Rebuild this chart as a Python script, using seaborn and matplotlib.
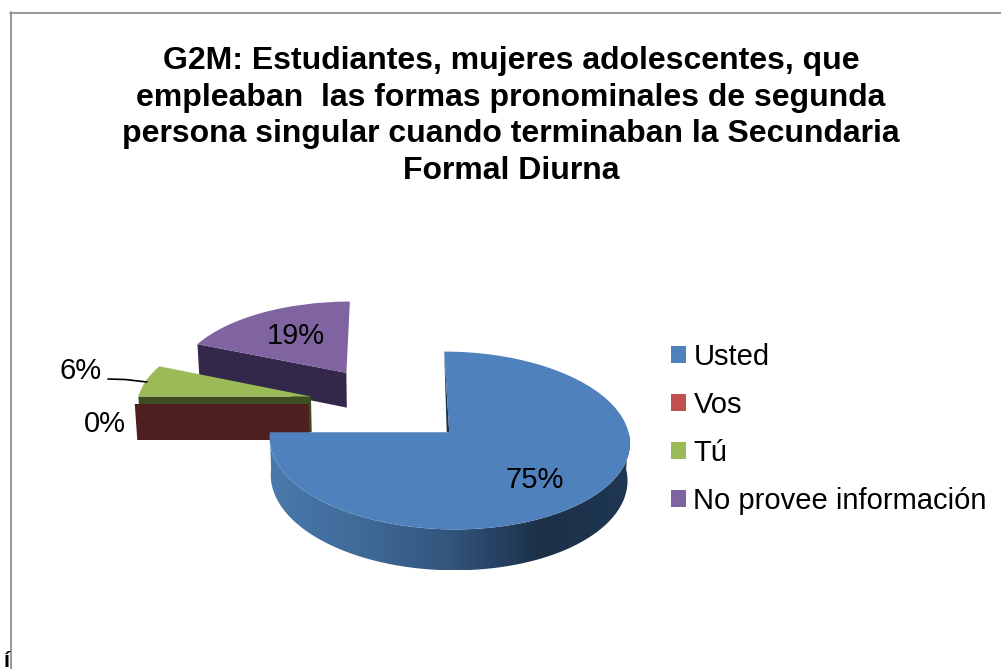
import numpy as np
import matplotlib
matplotlib.use('Agg')
import matplotlib.pyplot as plt
import seaborn as sns
from matplotlib.colors import LinearSegmentedColormap
from matplotlib.patches import Polygon
from matplotlib.transforms import Transform

categories = ['Usted', 'Vos', 'Tú', 'No provee información']
percentages = [75, 0, 6.25, 18.75]

title = ('G2M: Estudiantes, mujeres adolescentes, que\n'
         'empleaban  las formas pronominales de segunda\n'
         'persona singular cuando terminaban la Secundaria\n'
         'Formal Diurna')

top_colors = sns.color_palette(['#4f81bd', '#c0504d', '#9bbb59', '#8064a2'])
wall_colors = ['#1c3149', '#4d1f1e', '#3f4d23', '#33284a']
blue_wall = ['#4a79ad', '#3f6a98', '#32557c', '#1c3048', '#1f3751']

# where the pie sits on the page, in pixels
CX, CY, RX, RY = 390, 404, 174, 83
TILT = 0.09
DEPTH = 36
SHRINK = 0.01


def project(xy, z=0.0):
    # unit pie coords -> page pixels, with a bit of perspective
    xy = np.atleast_2d(xy)
    w = 1 + TILT * xy[:, 1]
    px = CX + RX * xy[:, 0] / w * (1 - SHRINK * z)
    py = CY - RY * xy[:, 1] / w + DEPTH * z / w
    return np.column_stack([px, py])


class Tilted(Transform):
    input_dims = 2
    output_dims = 2
    is_affine = False

    def transform_non_affine(self, values):
        return project(values)


def rim(wedge, angles):
    a = np.radians(angles)
    cx, cy = wedge.center
    return np.column_stack([cx + wedge.r * np.cos(a), cy + wedge.r * np.sin(a)])


def cut_face(wedge, angle):
    ends = np.vstack([wedge.center, rim(wedge, [angle])])
    return np.vstack([project(ends), project(ends[::-1], 1)])


sns.set_theme(style='white')
plt.rcParams['font.family'] = ['Liberation Sans', 'DejaVu Sans']

fig = plt.figure(figsize=(10.01, 6.69), dpi=100)
ax = fig.add_axes([0, 0, 1, 1])

wedges, _ = ax.pie(percentages, colors=top_colors, startangle=90, counterclock=False,
                   explode=[0.467] * 4, radius=1)
usted, vos, tu, no_info = wedges

ax.set_aspect('auto')
tilted = Tilted() + ax.transData
for w in wedges:
    w.set_transform(tilted)
    w.set_linewidth(0)

# back to front
no_info.set_zorder(3)
tu.set_zorder(5)
vos.set_zorder(7)
usted.set_zorder(10)
ax.add_patch(Polygon(cut_face(no_info, no_info.theta2), fc=wall_colors[3], ec='none', zorder=2))
ax.add_patch(Polygon(cut_face(tu, tu.theta2), fc=wall_colors[2], ec='none', zorder=4))
ax.add_patch(Polygon(cut_face(vos, vos.theta2), fc=wall_colors[1], ec='none', zorder=6))

# blue outer wall with the left-right shading
arc = rim(usted, np.linspace(usted.theta1, 0, 120))
wall_xy = np.vstack([project(arc), project(arc[::-1], 1)])
gradient = LinearSegmentedColormap.from_list('blue_wall', blue_wall)
im = ax.imshow(np.linspace(0, 1, 256)[None, :], cmap=gradient, aspect='auto', zorder=8,
               extent=[wall_xy[:, 0].min(), wall_xy[:, 0].max(), wall_xy[:, 1].max(), wall_xy[:, 1].min()])
clip = Polygon(wall_xy, fc='none', ec='none', transform=ax.transData)
ax.add_patch(clip)
im.set_clip_path(clip)

# dark sliver on the cut edge of the big slice
edge = project(np.vstack([usted.center, rim(usted, [usted.theta2])]))
ax.add_patch(Polygon(np.vstack([edge, edge[0] + [-2.5, 0]]), fc=wall_colors[0], ec='none', zorder=9))

ax.set_xlim(0, 1001)
ax.set_ylim(669, 0)
ax.set_aspect('auto')
ax.set_frame_on(False)
ax.set_xticks([])
ax.set_yticks([])

# only the left and top of the chart frame are on the page
ax.axvline(10.5, color='#969696', lw=1.4, ymax=1 - 12 / 669, zorder=1)
ax.axhline(12.5, color='#969696', lw=1.4, xmin=10 / 1001, zorder=1)

ax.text(511, 116, title, ha='center', va='center', fontsize=23, fontweight='bold',
        color='black', linespacing=1.3)

label_pos = [(535, 480), (105, 424), (81, 371), (296, 336)]
for p, pos in zip(percentages, label_pos):
    ax.text(pos[0], pos[1], f'{p:.0f}%', ha='center', va='center', fontsize=21, color='black', zorder=12)

ax.plot([108, 125, 147], [379, 379.5, 382], color='black', lw=1.2, zorder=12)

ax.text(4, 667, 'í', fontsize=16, fontweight='bold', color='black', ha='left', va='baseline', clip_on=False)

ax.legend(wedges, categories, loc='center left', bbox_to_anchor=(671 / 1001, 1 - 429 / 669),
          frameon=False, fontsize=21, labelspacing=0.69, handlelength=0.52, handleheight=0.52,
          handletextpad=0.25, borderpad=0, borderaxespad=0, labelcolor='black')

fig.savefig('out.png', dpi=100)
